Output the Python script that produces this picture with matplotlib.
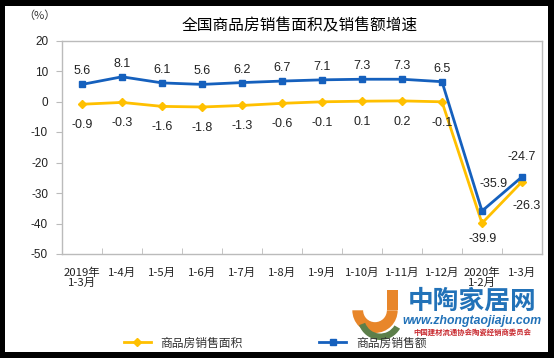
import matplotlib.pyplot as plt
import numpy as np
from matplotlib.patches import Rectangle, Wedge

plt.rcParams['font.family'] = ['Liberation Sans', 'Noto Sans CJK SC', 'DejaVu Sans']

# data
months = ['2019年\n1-3月', '1-4月', '1-5月', '1-6月', '1-7月', '1-8月', '1-9月',
          '1-10月', '1-11月', '1-12月', '2020年\n1-2月', '1-3月']
area = [-0.9, -0.3, -1.6, -1.8, -1.3, -0.6, -0.1, 0.1, 0.2, -0.1, -39.9, -26.3]
sales = [5.6, 8.1, 6.1, 5.6, 6.2, 6.7, 7.1, 7.3, 7.3, 6.5, -35.9, -24.7]
area_name = '商品房销售面积'
sales_name = '商品房销售额'

gold = '#FFC000'
blue = '#1560BD'
cjk = ['Noto Sans CJK SC', 'DejaVu Sans']

fig = plt.figure(figsize=(5.54, 3.58), dpi=100, facecolor='black')
fig.patches.append(Rectangle((5 / 554, 6 / 358), 543 / 554, 346 / 358,
                             transform=fig.transFigure, facecolor='white',
                             edgecolor='none', zorder=-10))
ax = fig.add_axes([62 / 554, 1 - 254 / 358, 480 / 554, 213.5 / 358])
ax.set_zorder(1)
ax.set_facecolor('white')

x = np.arange(len(months))
ax.plot(x, area, color=gold, lw=2, marker='D', ms=4.5, label=area_name, zorder=3)
ax.plot(x, sales, color=blue, lw=2, marker='s', ms=4.5, label=sales_name, zorder=3)

# data labels (offsets in pixels)
for i, v in enumerate(sales):
    off = (0, 13)
    if i == 10:
        off = (12, 27)
    elif i == 11:
        off = (0, 20)
    ax.annotate(f'{v:.1f}', (x[i], v), xytext=off, textcoords='offset pixels',
                ha='center', va='center', fontsize=9, color='#222222')
for i, v in enumerate(area):
    off = (0, -21)
    if i == 10:
        off = (1, -16)
    elif i == 11:
        off = (5, -24)
    ax.annotate(f'{v:.1f}', (x[i], v), xytext=off, textcoords='offset pixels',
                ha='center', va='center', fontsize=9, color='#222222')

ax.set_xlim(-0.5, len(months) - 0.5)
ax.set_ylim(-50, 20)
ax.set_yticks(range(-50, 21, 10))
ax.set_yticklabels([str(t) for t in range(-50, 21, 10)], fontsize=8.5, color='#222222')
ax.set_xticks(x)
ax.set_xticklabels(months, fontsize=8.2, family=cjk, color='#222222', linespacing=1.0)
ax.set_xticks(np.arange(0.5, len(months) - 0.5), minor=True)
ax.tick_params(axis='x', which='major', length=0, pad=10)
ax.tick_params(axis='x', which='minor', direction='in', length=4, color='#BBBBBB')
ax.tick_params(axis='y', length=4, color='#BBBBBB', pad=6)
for s in ax.spines.values():
    s.set_color('#BBBBBB')
    s.set_linewidth(1)

fig.text(39 / 554, 1 - 16 / 358, '（%）', fontsize=8, ha='center', va='center',
         family=cjk, color='#333333')
fig.text(300 / 554, 1 - 26 / 358, '全国商品房销售面积及销售额增速', fontsize=11.3,
         ha='center', va='center', family=cjk)

# watermark
lax = fig.add_axes([348 / 554, 1 - 340 / 358, 54 / 554, 54 / 358])
lax.set_xlim(0, 1)
lax.set_ylim(0, 1)
lax.axis('off')
lax.add_patch(Wedge((0.5, 0.55), 0.42, 180, 360, width=0.2, facecolor='#E8862A', edgecolor='none'))
lax.add_patch(Rectangle((0.72, 0.55), 0.2, 0.38, facecolor='#E8862A', edgecolor='none'))
lax.add_patch(Wedge((0.6, 0.42), 0.42, 200, 330, width=0.12, facecolor='#5C7F4A', edgecolor='none'))
fig.text(472 / 554, 1 - 301 / 358, '中陶家居网', fontsize=18.5, fontweight='bold',
         color='#2272B8', ha='center', va='center', family=['Noto Sans CJK SC'], zorder=2)
fig.text(472 / 554, 1 - 321 / 358, 'www.zhongtaojiaju.com', fontsize=8.8, style='italic',
         fontweight='bold', color='#2272B8', ha='center', va='center', zorder=2)
fig.text(472 / 554, 1 - 332 / 358, '中国建材流通协会陶瓷经销商委员会', fontsize=5.3,
         fontweight='bold', color='#C8282E', ha='center', va='center',
         family=['Noto Sans CJK SC'], zorder=2)

leg = fig.legend(handles=ax.get_lines(), loc='center', bbox_to_anchor=(275 / 554, 1 - 343 / 358), ncol=2,
                 frameon=False, handlelength=2.3, columnspacing=6.5,
                 prop={'family': ['Noto Sans CJK SC'], 'size': 8.5})
for t in leg.get_texts():
    t.set_color('#333333')

fig.savefig('out.png', dpi=100, facecolor='black')
